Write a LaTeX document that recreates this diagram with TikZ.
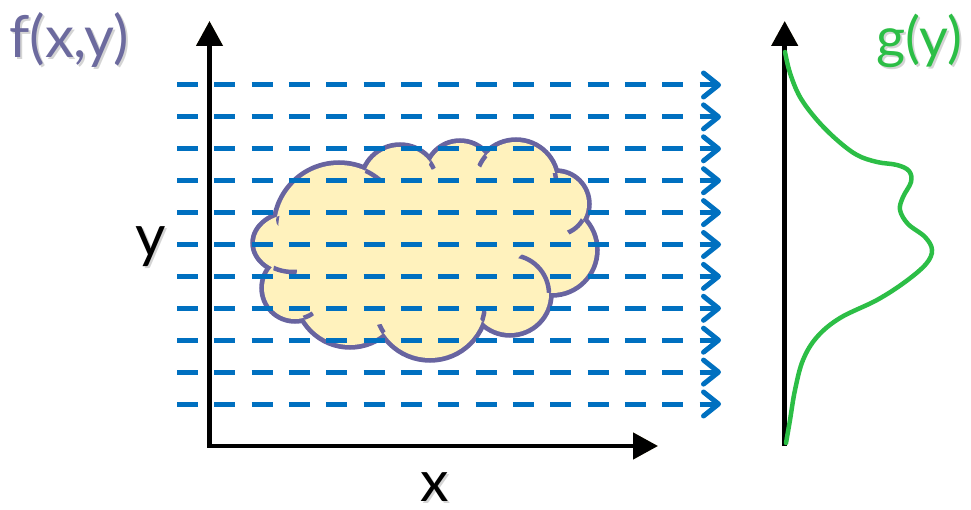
\documentclass[tikz,border=0pt]{standalone}
\usepackage{fontspec}
\setmainfont{Lato}
\usetikzlibrary{arrows.meta}
\definecolor{dashblue}{RGB}{0,112,192}
\definecolor{cloudfill}{RGB}{255,242,189}
\definecolor{cloudline}{RGB}{104,100,160}
\definecolor{fxycol}{RGB}{108,106,158}
\definecolor{gycol}{RGB}{44,190,70}
\definecolor{axshadow}{RGB}{255,240,180}
\definecolor{txshadow}{RGB}{212,212,212}
\begin{document}
\begin{tikzpicture}[x=1pt,y=-1pt,
  axisline/.style={line width=4.5pt,-{Triangle[length=25pt,width=26pt]}},
  dashline/.style={dashblue,line width=5pt,dash pattern=on 21pt off 16.33pt,
     -{Straight Barb[length=15pt,width=24pt,line cap=round,line join=round]}},
  cloudstub/.style={cloudline,line width=4.5pt},
  bigtext/.style={inner sep=0pt,anchor=base west},
  shadowtext/.style={bigtext,text=txshadow}]
\useasboundingbox (0,0) rectangle (971,510);

% ---------- cloud ----------
\def\cloudshapes{%
  (293,243) ellipse[x radius=38,y radius=29]
  (339,228) circle[radius=63]
  (400,184) circle[radius=37]
  (460,176) circle[radius=33]
  (516,182) circle[radius=40]
  (556,204) circle[radius=31]
  (552,250) circle[radius=43]
  (510,294) circle[radius=39]
  (430,303) circle[radius=55]
  (350,292) circle[radius=53]
  (295,288) circle[radius=31]}
\draw[cloudline,line width=9.5pt] \cloudshapes;
\fill[cloudfill] \cloudshapes;
\fill[cloudfill] (293,243) -- (339,228) -- (400,184) -- (460,176) -- (516,182)
  -- (556,204) -- (552,250) -- (510,294) -- (430,303) -- (350,292) -- (295,288) -- cycle;
% inner stubs
\begin{scope}\clip (293,243) ellipse[x radius=38,y radius=29]; \clip (285,220) circle[radius=9];
  \draw[cloudstub] (339,228) circle[radius=63]; \end{scope}
\begin{scope}\clip (400,184) circle[radius=37]; \clip (372,172) circle[radius=11];
  \draw[cloudstub] (339,228) circle[radius=63]; \end{scope}
\begin{scope}\clip (460,176) circle[radius=33]; \clip (430,162) circle[radius=8];
  \draw[cloudstub] (400,184) circle[radius=37]; \end{scope}
\begin{scope}\clip (460,176) circle[radius=33]; \clip (484,160) circle[radius=8];
  \draw[cloudstub] (516,182) circle[radius=40]; \end{scope}
\begin{scope}\clip (556,204) circle[radius=31]; \clip (555,173) circle[radius=8];
  \draw[cloudstub] (516,182) circle[radius=40]; \end{scope}
\begin{scope}\clip (552,250) circle[radius=43]; \clip (578,226) circle[radius=12];
  \draw[cloudstub] (556,204) circle[radius=31]; \end{scope}
\begin{scope}\clip (552,250) circle[radius=43]; \clip (537,273) circle[radius=24];
  \draw[cloudstub] (510,294) circle[radius=39]; \end{scope}
\begin{scope}\clip (510,294) circle[radius=39]; \clip (482,319) circle[radius=9];
  \draw[cloudstub] (430,303) circle[radius=55]; \end{scope}
\begin{scope}\clip (350,292) circle[radius=53]; \clip (381,332) circle[radius=8];
  \draw[cloudstub] (430,303) circle[radius=55]; \end{scope}
\begin{scope}\clip (350,292) circle[radius=53]; \clip (307,317) circle[radius=7];
  \draw[cloudstub] (295,288) circle[radius=31]; \end{scope}
\begin{scope}\clip (295,288) circle[radius=31]; \clip (285,271) circle[radius=12];
  \draw[cloudstub] (293,243) ellipse[x radius=38,y radius=29]; \end{scope}

% ---------- axes ----------
\coordinate (o) at (209.5,446);
\coordinate (ytop) at (209.5,21);
\coordinate (xend) at (658,446);
\coordinate (gbot) at (784.7,446);
\coordinate (gtop) at (784.7,21);
\begin{scope}[shift={(3,3)}]
  \draw[axshadow,axisline] (o) -- (ytop);
  \draw[axshadow,axisline] (o) -- (xend);
  \draw[axshadow,axisline] (gbot) -- (gtop);
\end{scope}
\draw[black,axisline] (o) -- (ytop);
\draw[black,axisline] ([xshift=-2.25pt]o) -- (xend);
\draw[black,axisline] (gbot) -- (gtop);

% ---------- dashed rays ----------
\foreach \k in {0,...,10}{
  \coordinate (ls\k) at (177,85+31.9*\k);
  \coordinate (le\k) at (721,85+31.9*\k);
  \draw[dashline] (ls\k) -- (le\k);
}

% ---------- g(y) curve ----------
\draw[gycol,line width=4.5pt,line cap=round] plot[smooth,tension=0.6] coordinates {
 (785,52) (790,73) (800,97) (817,120) (837,140) (857,155) (877,162) (897,165)
 (909,171) (911,182) (903,197) (900,210) (908,224) (925,237) (932,250) (926,264)
 (905,282) (877,300) (840,318) (817,337) (803,360) (795,390) (790,420) (786,443)};

% ---------- labels (with soft drop shadow) ----------
\node[shadowtext,font=\fontsize{58}{64}\selectfont] (fxys) at (11,60) {f(x,y)};
\node[bigtext,text=fxycol,font=\fontsize{58}{64}\selectfont] (fxy) at (9,58) {f(x,y)};
\node[shadowtext,font=\fontsize{56}{62}\selectfont] (gys) at (878,60) {g(y)};
\node[bigtext,text=gycol,font=\fontsize{56}{62}\selectfont] (gy) at (876,58) {g(y)};
\node[shadowtext,font=\fontsize{59}{66}\selectfont] (ylabs) at (137,259) {y};
\node[bigtext,text=black,font=\fontsize{59}{66}\selectfont] (ylab) at (135,257) {y};
\node[shadowtext,font=\fontsize{57}{64}\selectfont] (xlabs) at (422,503) {x};
\node[bigtext,text=black,font=\fontsize{57}{64}\selectfont] (xlab) at (420,501) {x};
\end{tikzpicture}
\end{document}
